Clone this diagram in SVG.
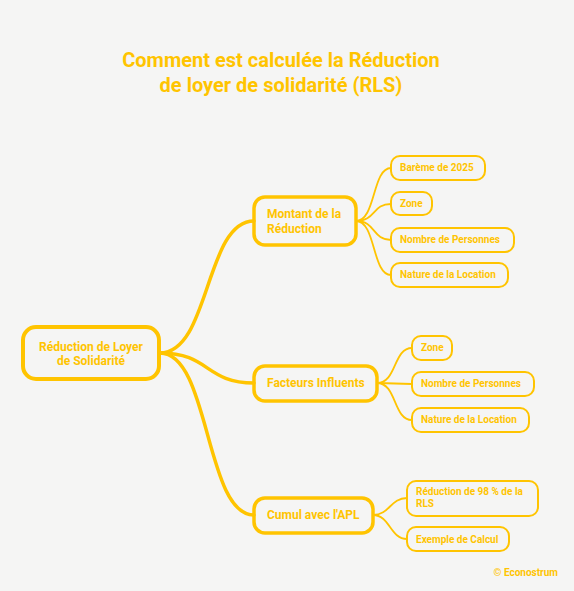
<svg xmlns="http://www.w3.org/2000/svg" width="574" height="591" viewBox="0 0 574 591">
<style>
text{font-family:Roboto,"Liberation Sans",sans-serif;font-weight:bold;fill:#ffc400}
.title{font-size:20px;text-anchor:middle}
.box{fill:none;stroke:#ffc400}
.root{stroke-width:4}
.br{stroke-width:3.5}
.lf{stroke-width:2}
.t1{font-size:12px}
.t2{font-size:10px}
.c1{fill:none;stroke:#ffc400;stroke-width:3.5;stroke-linecap:round}
.c2{fill:none;stroke:#ffc400;stroke-width:1.8;stroke-linecap:round}
</style>
<rect width="574" height="591" fill="#f5f5f4"/>
<text class="title" x="281" y="67">Comment est calculée la Réduction</text>
<text class="title" x="281" y="92">de loyer de solidarité (RLS)</text>
<g id="connectors">
<path class="c1" d="M160,353 C210,353 205,221 254,221"/>
<path class="c1" d="M160,353 C210,353 205,383 254,383"/>
<path class="c1" d="M160,353 C210,353 205,515 254,515"/>
<path class="c2" d="M356,221 C376,221 372,168 391,168"/>
<path class="c2" d="M356,221 C376,221 372,204 391,204"/>
<path class="c2" d="M356,221 C376,221 372,240 391,240"/>
<path class="c2" d="M356,221 C376,221 372,275 391,275"/>
<path class="c2" d="M377,383 C397,383 393,348 412,348"/>
<path class="c2" d="M377,383 C397,383 393,384 412,384"/>
<path class="c2" d="M377,383 C397,383 393,420 412,420"/>
<path class="c2" d="M373,515 C390,515 390,498 407,498"/>
<path class="c2" d="M373,515 C390,515 390,539 407,539"/>
</g>
<g id="root"><rect class="box root" x="23" y="327" width="136" height="52" rx="13"/><text class="t1" x="91" y="351" text-anchor="middle">Réduction de Loyer</text><text class="t1" x="91" y="365" text-anchor="middle">de Solidarité</text></g>
<g id="montant"><rect class="box br" x="254" y="197" width="102" height="48" rx="11"/><text class="t1" x="267" y="218">Montant de la</text><text class="t1" x="267" y="233">Réduction</text></g>
<g id="facteurs"><rect class="box br" x="254" y="366" width="123" height="35" rx="11"/><text class="t1" x="267" y="387">Facteurs Influents</text></g>
<g id="cumul"><rect class="box br" x="254" y="498" width="119" height="35" rx="11"/><text class="t1" x="267" y="519">Cumul avec l'APL</text></g>
<g id="bareme"><rect class="box lf" x="391" y="156" width="94" height="24" rx="9"/><text class="t2" x="400" y="171">Barème de 2025</text></g>
<g id="zone1"><rect class="box lf" x="391" y="192" width="41" height="23" rx="9"/><text class="t2" x="400" y="207">Zone</text></g>
<g id="nombre1"><rect class="box lf" x="391" y="228" width="123" height="24" rx="9"/><text class="t2" x="400" y="243">Nombre de Personnes</text></g>
<g id="nature1"><rect class="box lf" x="391" y="263" width="117" height="24" rx="9"/><text class="t2" x="400" y="278">Nature de la Location</text></g>
<g id="zone2"><rect class="box lf" x="412" y="336" width="40" height="24" rx="9"/><text class="t2" x="421" y="351">Zone</text></g>
<g id="nombre2"><rect class="box lf" x="412" y="372" width="122" height="24" rx="9"/><text class="t2" x="421" y="387">Nombre de Personnes</text></g>
<g id="nature2"><rect class="box lf" x="412" y="408" width="117" height="24" rx="9"/><text class="t2" x="421" y="423">Nature de la Location</text></g>
<g id="reduction98"><rect class="box lf" x="407" y="481" width="131" height="35" rx="9"/><text class="t2" x="416" y="495">Réduction de 98 % de la</text><text class="t2" x="416" y="507">RLS</text></g>
<g id="exemple"><rect class="box lf" x="407" y="527" width="102" height="24" rx="9"/><text class="t2" x="416" y="543">Exemple de Calcul</text></g>
<text x="558" y="576" text-anchor="end" style="font-size:10px">© Econostrum</text>
</svg>
